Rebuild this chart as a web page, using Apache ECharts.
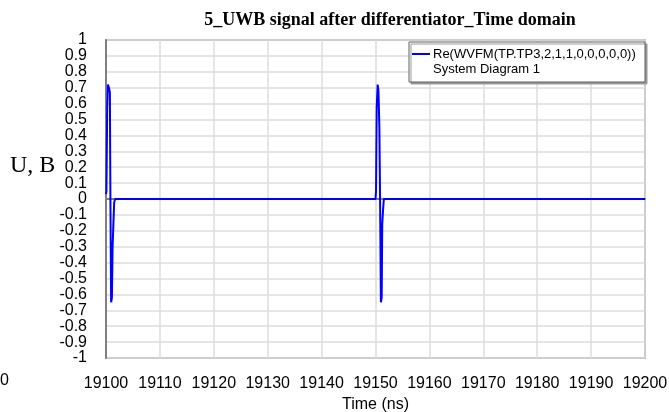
<!DOCTYPE html>
<html>
<head>
<meta charset="utf-8">
<script src="https://cdn.jsdelivr.net/npm/echarts@6/dist/echarts.min.js"></script>
<style>
  html, body { margin: 0; padding: 0; background: #fff; }
  #chart { width: 669px; height: 412px; }
</style>
</head>
<body>
<div id="chart"></div>
<script>
// waveform samples (time in ns, voltage in V)
var timeNs = [
  19100.00, 19100.08, 19100.22, 19100.35, 19100.55, 19100.72, 19100.82,
  19100.95, 19101.10, 19101.22, 19101.38, 19101.52, 19101.70,
  19150.00, 19150.10, 19150.22, 19150.40, 19150.55, 19150.72, 19150.85,
  19151.00, 19151.15, 19151.25, 19151.40, 19151.55,
  19200.00
];
var voltage = [
  0.03, 0.05, 0.57, 0.72, 0.70, 0.67, 0.00,
  -0.65, -0.62, -0.31, -0.15, -0.02, 0.00,
  0.00, 0.05, 0.57, 0.72, 0.68, 0.45, 0.00,
  -0.65, -0.62, -0.16, -0.07, 0.00,
  0.00
];
var seriesName = 'Re(WVFM(TP.TP3,2,1,1,0,0,0,0,0))';
var seriesSub = 'System Diagram 1';

var points = timeNs.map(function (t, i) { return [t, voltage[i]]; });

var chart = echarts.init(document.getElementById('chart'));
chart.setOption({
  animation: false,
  backgroundColor: '#fff',
  title: {
    text: '5_UWB signal after differentiator_Time domain',
    left: 385, top: 6, textAlign: 'center',
    textStyle: { fontFamily: 'Liberation Serif', fontWeight: 'bold', fontSize: 18, color: '#000' }
  },
  grid: {
    left: 106, right: 24, top: 40, bottom: 54,
    containLabel: false, outerBoundsMode: 'none',
    show: true, borderColor: '#808080', borderWidth: 1.5
  },
  xAxis: {
    type: 'value', min: 19100, max: 19200, interval: 10,
    name: 'Time (ns)', nameLocation: 'middle', nameGap: 38,
    nameTextStyle: { fontFamily: 'Liberation Sans', fontSize: 16, color: '#000' },
    axisLine: { lineStyle: { color: '#808080', width: 2 } },
    axisTick: { show: false },
    axisLabel: {
      margin: 18, fontFamily: 'Liberation Sans', fontSize: 16, color: '#000',
      showMinLabel: true, showMaxLabel: true, hideOverlap: false,
      formatter: function (v) { return String(v); }
    },
    splitLine: { lineStyle: { color: '#dcdcdc', width: 1.5 } }
  },
  yAxis: {
    type: 'value', min: -1, max: 1, interval: 0.1,
    axisLine: { lineStyle: { color: '#808080', width: 2 } },
    axisTick: { show: false },
    axisLabel: {
      margin: 19, fontFamily: 'Liberation Sans', fontSize: 16, color: '#000',
      showMinLabel: true, showMaxLabel: true, hideOverlap: false,
      formatter: function (v) { return String(Math.round(v * 10) / 10); }
    },
    splitLine: { lineStyle: { color: '#dcdcdc', width: 1.5 } }
  },
  series: [{
    name: seriesName,
    type: 'line',
    data: points,
    showSymbol: false,
    lineStyle: { color: '#0000ff', width: 2 },
    itemStyle: { color: '#0000ff' }
  }],
  graphic: [
    { type: 'text', left: 10, top: 154, z: 100,
      style: { text: 'U, B', fontFamily: 'Liberation Serif', fontSize: 24, fill: '#000' } },
    { type: 'text', left: 0, top: 373, z: 100,
      style: { text: '0', fontFamily: 'Liberation Sans', fontSize: 16, fill: '#000' } },
    { type: 'rect', z: 100, shape: { x: 409, y: 42, width: 236, height: 40 },
      style: { fill: '#fff', stroke: '#606060', lineWidth: 1,
        shadowColor: '#999', shadowBlur: 0, shadowOffsetX: 2, shadowOffsetY: 2 } },
    { type: 'line', z: 101, shape: { x1: 412, y1: 54, x2: 430, y2: 54 },
      style: { stroke: '#0000ff', lineWidth: 2 } },
    { type: 'text', z: 101, x: 433, y: 54,
      style: { text: seriesName, fontFamily: 'Liberation Sans', fontSize: 13, fill: '#000', verticalAlign: 'middle' } },
    { type: 'text', z: 101, x: 433, y: 69,
      style: { text: seriesSub, fontFamily: 'Liberation Sans', fontSize: 13, fill: '#000', verticalAlign: 'middle' } }
  ]
});
</script>
</body>
</html>
